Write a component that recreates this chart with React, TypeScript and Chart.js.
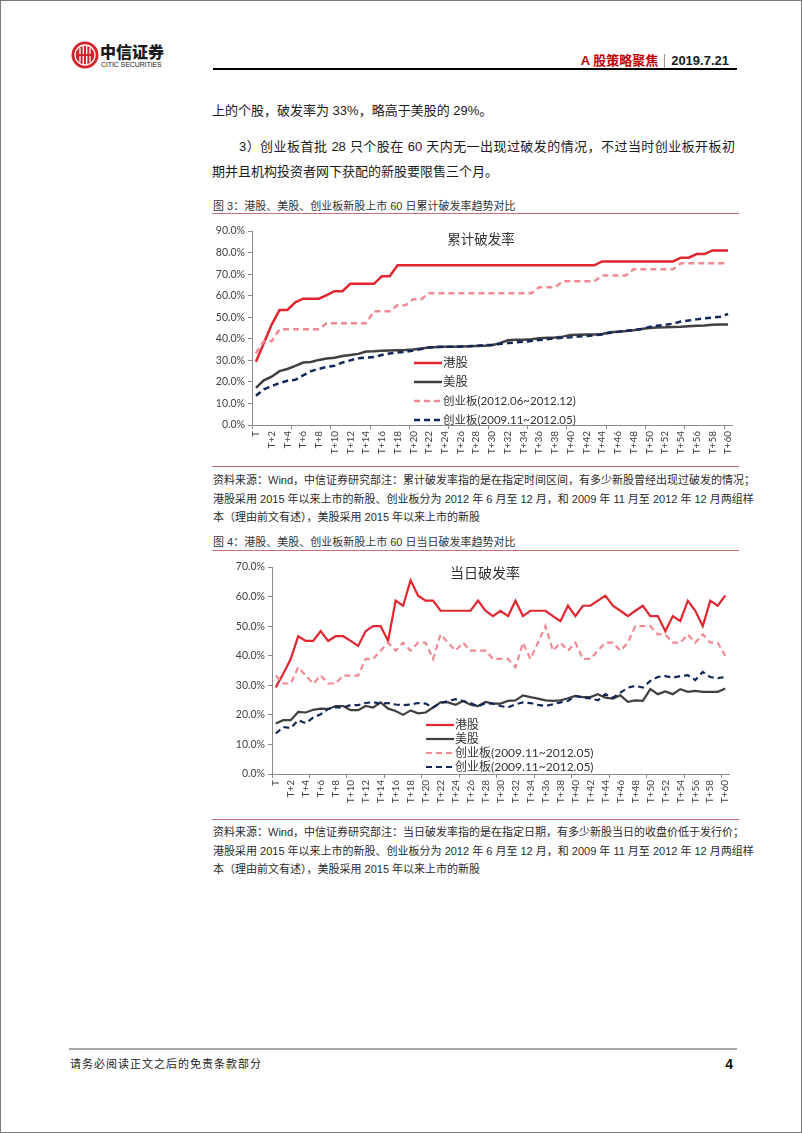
import React, { useEffect, useRef } from "react";
import { Chart, registerables } from "chart.js";

Chart.register(...registerables);

// ---------- data ----------
const categories = [
  "T", "T+1", "T+2", "T+3", "T+4", "T+5", "T+6", "T+7", "T+8", "T+9", "T+10",
  "T+11", "T+12", "T+13", "T+14", "T+15", "T+16", "T+17", "T+18", "T+19", "T+20",
  "T+21", "T+22", "T+23", "T+24", "T+25", "T+26", "T+27", "T+28", "T+29", "T+30",
  "T+31", "T+32", "T+33", "T+34", "T+35", "T+36", "T+37", "T+38", "T+39", "T+40",
  "T+41", "T+42", "T+43", "T+44", "T+45", "T+46", "T+47", "T+48", "T+49", "T+50",
  "T+51", "T+52", "T+53", "T+54", "T+55", "T+56", "T+57", "T+58", "T+59", "T+60",
];

// Figure 3: cumulative break rate (%)
const hkCum = [
  29.3, 37.9, 46.6, 53.4, 53.4, 56.9, 58.6, 58.6, 58.6, 60.3,
  62.1, 62.1, 65.5, 65.5, 65.5, 65.5, 69.0, 69.0, 74.1, 74.1,
  74.1, 74.1, 74.1, 74.1, 74.1, 74.1, 74.1, 74.1, 74.1, 74.1,
  74.1, 74.1, 74.1, 74.1, 74.1, 74.1, 74.1, 74.1, 74.1, 74.1,
  74.1, 74.1, 74.1, 74.1, 75.9, 75.9, 75.9, 75.9, 75.9, 75.9,
  75.9, 75.9, 75.9, 75.9, 77.6, 77.6, 79.3, 79.3, 81.0, 81.0,
  81.0,
];
const usCum = [
  17.2, 20.7, 22.4, 25.0, 26.0, 27.4, 29.0, 29.2, 30.2, 30.8,
  31.2, 32.0, 32.5, 33.0, 34.1, 34.2, 34.5, 34.6, 34.7, 34.8,
  35.0, 35.5, 36.0, 36.2, 36.3, 36.3, 36.4, 36.5, 36.7, 36.8,
  37.0, 38.0, 39.3, 39.5, 39.6, 39.8, 40.2, 40.5, 40.6, 41.0,
  41.8, 41.9, 42.0, 42.0, 42.2, 43.0, 43.3, 43.6, 44.0, 44.5,
  45.0, 45.2, 45.3, 45.5, 45.6, 45.8, 46.0, 46.2, 46.5, 46.6,
  46.6,
];
const cybLateCum = [
  33.3, 38.9, 38.9, 44.4, 44.4, 44.4, 44.4, 44.4, 44.4, 47.2,
  47.2, 47.2, 47.2, 47.2, 47.2, 52.8, 52.8, 52.8, 55.6, 55.6,
  58.3, 58.3, 61.1, 61.1, 61.1, 61.1, 61.1, 61.1, 61.1, 61.1,
  61.1, 61.1, 61.1, 61.1, 61.1, 61.1, 63.9, 63.9, 63.9, 66.7,
  66.7, 66.7, 66.7, 66.7, 69.4, 69.4, 69.4, 69.4, 72.2, 72.2,
  72.2, 72.2, 72.2, 72.2, 75.0, 75.0, 75.0, 75.0, 75.0, 75.0,
  75.0,
];
const cybEarlyCum = [
  13.6, 16.5, 18.0, 19.5, 20.5, 21.0, 23.0, 25.0, 26.0, 27.0,
  27.5, 29.0, 30.0, 31.0, 31.2, 31.5, 32.5, 33.2, 33.6, 34.0,
  34.5, 35.2, 36.0, 36.2, 36.3, 36.3, 36.4, 36.5, 36.7, 37.0,
  37.2, 37.6, 38.0, 38.3, 38.6, 39.0, 39.4, 39.8, 40.2, 40.5,
  40.7, 41.0, 41.3, 41.6, 42.0, 42.8, 43.2, 43.7, 44.0, 44.5,
  45.5, 46.0, 46.5, 47.0, 48.0, 48.5, 49.0, 49.5, 49.8, 50.2,
  51.5,
];

// Figure 4: same-day break rate (%)
const hkDay = [
  29.3, 33.9, 38.9, 46.6, 45.0, 45.0, 48.3, 45.0, 46.6, 46.6,
  45.0, 43.3, 48.3, 50.0, 50.0, 45.0, 58.6, 56.9, 65.5, 60.3,
  58.6, 58.6, 55.2, 55.2, 55.2, 55.2, 55.2, 58.6, 55.2, 53.4,
  55.2, 53.4, 58.6, 53.4, 55.2, 55.2, 55.2, 53.4, 51.7, 56.9,
  53.4, 56.9, 56.9, 58.6, 60.3, 56.9, 55.2, 53.4, 55.2, 56.9,
  53.4, 53.4, 48.3, 53.4, 51.7, 58.6, 55.2, 50.0, 58.6, 56.9,
  60.3,
];
const usDay = [
  17.1, 18.2, 18.2, 21.0, 20.8, 21.7, 22.1, 22.0, 23.0, 23.0,
  21.6, 21.6, 23.0, 22.5, 24.2, 22.1, 21.3, 20.0, 21.5, 20.5,
  20.8, 22.5, 24.2, 24.2, 23.4, 24.7, 23.4, 23.0, 24.4, 23.8,
  23.8, 24.7, 24.9, 26.6, 26.0, 25.5, 24.9, 24.7, 24.9, 25.6,
  26.4, 26.0, 26.0, 27.0, 25.8, 25.5, 26.6, 24.4, 24.9, 24.7,
  28.7, 27.0, 27.9, 27.0, 28.7, 27.8, 28.1, 27.8, 27.8, 27.8,
  28.9,
];
const cybPinkDay = [
  33.3, 30.6, 30.6, 36.1, 33.3, 30.6, 33.3, 30.6, 30.6, 33.3,
  33.3, 33.3, 38.9, 38.9, 41.7, 44.4, 41.7, 44.4, 41.7, 44.4,
  44.4, 38.9, 47.2, 44.4, 41.7, 44.4, 41.7, 41.7, 41.7, 38.9,
  38.9, 38.9, 36.1, 44.4, 38.9, 44.4, 50.0, 41.7, 44.4, 41.7,
  44.4, 38.9, 38.9, 41.7, 44.4, 44.4, 41.7, 44.4, 50.0, 50.0,
  50.0, 47.2, 47.2, 44.4, 44.4, 47.2, 44.4, 47.2, 44.4, 44.4,
  40.0,
];
const cybNavyDay = [
  13.7, 15.9, 15.5, 18.2, 17.2, 19.1, 20.2, 22.0, 22.5, 22.5,
  23.3, 23.3, 24.0, 24.3, 23.8, 24.0, 23.5, 23.3, 23.5, 24.0,
  23.8, 22.5, 24.0, 24.7, 25.3, 24.7, 24.0, 22.8, 24.0, 23.8,
  23.0, 22.5, 23.6, 24.2, 24.0, 23.4, 23.0, 23.6, 24.2, 24.7,
  26.4, 25.8, 25.6, 24.9, 27.0, 25.8, 27.5, 29.2, 29.8, 29.2,
  31.5, 32.8, 33.1, 32.6, 33.1, 33.4, 31.8, 34.5, 32.8, 32.4,
  32.8,
];

const legendCum = ["港股", "美股", "创业板(2012.06~2012.12)", "创业板(2009.11~2012.05)"];
const legendDay = ["港股", "美股", "创业板(2009.11~2012.05)", "创业板(2009.11~2012.05)"];

const notesCum = [
  "资料来源：Wind，中信证券研究部注：累计破发率指的是在指定时间区间，有多少新股曾经出现过破发的情况；",
  "港股采用 2015 年以来上市的新股、创业板分为 2012 年 6 月至 12 月，和 2009 年 11 月至 2012 年 12 月两组样",
  "本（理由前文有述），美股采用 2015 年以来上市的新股",
];
const notesDay = [
  "资料来源：Wind，中信证券研究部注：当日破发率指的是在指定日期，有多少新股当日的收盘价低于发行价；",
  "港股采用 2015 年以来上市的新股、创业板分为 2012 年 6 月至 12 月，和 2009 年 11 月至 2012 年 12 月两组样",
  "本（理由前文有述），美股采用 2015 年以来上市的新股",
];

// ---------- styles ----------
const RED = "#E2262F";
const GRAY = "#404040";
const PINK = "#EF8A92";
const NAVY = "#11295A";
const AXIS = "#8A8A8A";
const CHART_FONT = 'Lato, "Noto Sans CJK SC", sans-serif';
const PAGE_FONT = '"Liberation Sans", Arial, "Noto Sans CJK SC", sans-serif';
const CJK_FONT = '"Noto Sans CJK SC", sans-serif';

type Series = { data: number[]; color: string; dash: number[]; width: number };
type Box = { left: number; top: number; width: number; height: number };
type Area = { left: number; top: number; right: number; bottom: number };

function LineChart(props: { box: Box; area: Area; yMax: number; series: Series[] }) {
  const { box, area, yMax, series } = props;
  const ref = useRef<HTMLCanvasElement>(null);
  useEffect(() => {
    const yWidth = area.left - box.left;
    const xHeight = box.top + box.height - area.bottom;
    const chart = new Chart(ref.current as HTMLCanvasElement, {
      type: "line",
      data: {
        labels: categories,
        datasets: series.map((s, i) => ({
          data: s.data,
          borderColor: s.color,
          backgroundColor: s.color,
          borderWidth: s.width,
          borderDash: s.dash,
          borderCapStyle: "butt",
          pointRadius: 0,
          tension: 0,
          fill: false,
          order: series.length - i,
        })),
      },
      options: {
        responsive: false,
        animation: false,
        devicePixelRatio: 1,
        layout: {
          padding: { top: area.top - box.top, right: box.left + box.width - area.right, left: 0, bottom: 0 },
        },
        plugins: { legend: { display: false }, tooltip: { enabled: false }, title: { display: false } },
        scales: {
          x: {
            type: "category",
            offset: true,
            grid: {
              offset: true,
              drawOnChartArea: false,
              drawTicks: true,
              tickLength: 4,
              color: (c: any) => (typeof c.index === "number" && c.index % 5 === 0 ? AXIS : "rgba(0,0,0,0)"),
            },
            border: { display: true, color: AXIS, width: 1 },
            ticks: {
              autoSkip: false,
              maxRotation: 90,
              minRotation: 90,
              padding: 2,
              color: "#404040",
              font: { family: CHART_FONT, size: 10 },
              callback: (_v: any, i: number) => (i % 2 === 0 ? categories[i] : ""),
            },
            afterFit: (s: any) => {
              s.height = xHeight;
            },
          },
          y: {
            min: 0,
            max: yMax,
            grid: { drawOnChartArea: false, drawTicks: true, tickLength: 4, color: AXIS },
            border: { display: true, color: AXIS, width: 1 },
            ticks: {
              stepSize: 10,
              padding: 3,
              color: "#404040",
              font: { family: CHART_FONT, size: 10.5 },
              callback: (v: any) => Number(v).toFixed(1) + "%",
            },
            afterFit: (s: any) => {
              s.width = yWidth;
            },
          },
        },
      },
    } as any);
    return () => chart.destroy();
  }, []);
  return (
    <canvas
      ref={ref}
      width={box.width}
      height={box.height}
      style={{ position: "absolute", left: box.left, top: box.top, width: box.width, height: box.height }}
    />
  );
}

function Legend(props: {
  x: number;
  textX: number;
  rows: number[];
  labels: string[];
  series: Series[];
  sizes: number[];
}) {
  const { x, textX, rows, labels, series, sizes } = props;
  return (
    <>
      {labels.map((lab, i) => (
        <div key={i}>
          <svg
            style={{ position: "absolute", left: x, top: rows[i] - 3 }}
            width={textX - x - 1}
            height={6}
          >
            <line
              x1={0}
              y1={3}
              x2={textX - x - 1}
              y2={3}
              stroke={series[i].color}
              strokeWidth={series[i].width}
              strokeDasharray={series[i].dash.length ? series[i].dash.join(" ") : undefined}
            />
          </svg>
          <div
            style={{
              position: "absolute",
              left: textX,
              top: rows[i] - 10,
              height: 20,
              lineHeight: "20px",
              fontSize: sizes[i],
              fontFamily: CHART_FONT,
              color: "#333",
              whiteSpace: "nowrap",
            }}
          >
            {lab}
          </div>
        </div>
      ))}
    </>
  );
}

function Abs(props: { x: number; y: number; w?: number; style?: any; children?: any }) {
  return (
    <div style={{ position: "absolute", left: props.x, top: props.y, width: props.w, whiteSpace: "nowrap", ...props.style }}>
      {props.children}
    </div>
  );
}

function NoteBlock(props: { lines: string[]; top: number }) {
  return (
    <>
      {props.lines.map((t, i) => (
        <div
          key={i}
          style={{
            position: "absolute",
            left: 212,
            top: props.top + i * 18.5 - 9,
            width: 523,
            height: 18,
            lineHeight: "18px",
            fontSize: 11,
            fontFamily: PAGE_FONT,
            color: "#2a2a2a",
            whiteSpace: "nowrap",
            textAlign: i < 2 ? "justify" : "left",
            textAlignLast: i < 2 ? "justify" : "left",
          } as any}
        >
          {t}
        </div>
      ))}
    </>
  );
}

function FigTitle(props: { text: string; y: number; lineY: number }) {
  return (
    <>
      <Abs x={212} y={props.y - 9} style={{ fontSize: 11, lineHeight: "18px", fontFamily: PAGE_FONT, color: "#333" }}>
        {props.text}
      </Abs>
      <div style={{ position: "absolute", left: 211, top: props.lineY, width: 527, height: 1, background: "#C7707A" }} />
    </>
  );
}

export default function App() {
  const cumSeries: Series[] = [
    { data: hkCum, color: RED, dash: [], width: 2.5 },
    { data: usCum, color: GRAY, dash: [], width: 2.5 },
    { data: cybLateCum, color: PINK, dash: [6, 4], width: 2.5 },
    { data: cybEarlyCum, color: NAVY, dash: [6, 4], width: 2.5 },
  ];
  const daySeries: Series[] = [
    { data: hkDay, color: RED, dash: [], width: 2.2 },
    { data: usDay, color: GRAY, dash: [], width: 2.2 },
    { data: cybPinkDay, color: PINK, dash: [6, 4], width: 2.2 },
    { data: cybNavyDay, color: NAVY, dash: [6, 4], width: 2.2 },
  ];

  return (
    <div
      style={{
        position: "absolute",
        left: 0,
        top: 0,
        width: 802,
        height: 1133,
        background: "#fff",
        boxSizing: "border-box",
        border: "1px solid #7a7a7a",
        overflow: "hidden",
        fontFamily: PAGE_FONT,
      }}
    >
      {/* header logo */}
      <svg style={{ position: "absolute", left: 70, top: 40 }} width={28} height={28} viewBox="0 0 28 28">
        <circle cx={14} cy={14} r={13.5} fill="#D2232A" />
        <circle cx={14} cy={14} r={10} fill="none" stroke="#fff" strokeWidth={1.3} />
        <path d="M9 7 V21 M12.3 5 V23 M15.7 5 V23 M19 7 V21" stroke="#fff" strokeWidth={1.3} />
        <path d="M5.5 14 H22.5" stroke="#D2232A" strokeWidth={2} />
      </svg>
      <Abs x={99} y={40} style={{ fontSize: 16, lineHeight: "20px", fontWeight: 900, fontFamily: CJK_FONT, color: "#1a1a1a" }}>
        中信证券
      </Abs>
      <Abs x={100} y={59} style={{ fontSize: 7, lineHeight: "9px", fontFamily: PAGE_FONT, color: "#222", letterSpacing: -0.1 }}>
        CITIC SECURITIES
      </Abs>
      <div
        style={{
          position: "absolute",
          right: 802 - 730,
          top: 51,
          height: 18,
          lineHeight: "18px",
          fontSize: 13,
          fontWeight: 700,
          whiteSpace: "nowrap",
          display: "flex",
          alignItems: "center",
        }}
      >
        <span style={{ color: "#C00000" }}>A 股策略聚焦</span>
        <span style={{ display: "inline-block", width: 1, height: 14, background: "#999", margin: "0 6px" }} />
        <span style={{ color: "#1a1a1a" }}>2019.7.21</span>
      </div>
      <div style={{ position: "absolute", left: 212, top: 67, width: 524, height: 2, background: "#000" }} />

      {/* body text */}
      <Abs x={211} y={100} style={{ fontSize: 13, lineHeight: "20px", color: "#1a1a1a" }}>
        上的个股，破发率为 33%，略高于美股的 29%。
      </Abs>
      <div
        style={{
          position: "absolute",
          left: 238,
          top: 136,
          width: 496,
          fontSize: 13,
          lineHeight: "20px",
          color: "#1a1a1a",
          whiteSpace: "nowrap",
          textAlign: "justify",
          textAlignLast: "justify",
        } as any}
      >
        3）创业板首批 28 只个股在 60 天内无一出现过破发的情况，不过当时创业板开板初
      </div>
      <Abs x={211} y={161} style={{ fontSize: 13, lineHeight: "20px", color: "#1a1a1a" }}>
        期并且机构投资者网下获配的新股要限售三个月。
      </Abs>

      {/* figure 3 */}
      <FigTitle text="图 3：港股、美股、创业板新股上市 60 日累计破发率趋势对比" y={205} lineY={212} />
      <LineChart
        box={{ left: 200, top: 220, width: 545, height: 242 }}
        area={{ left: 251, top: 230, right: 731, bottom: 424 }}
        yMax={90}
        series={cumSeries}
      />
      <div
        style={{
          position: "absolute",
          left: 380,
          width: 200,
          top: 227,
          textAlign: "center",
          fontSize: 13.5,
          lineHeight: "20px",
          fontFamily: CJK_FONT,
          color: "#333",
        }}
      >
        累计破发率
      </div>
      <Legend
        x={413}
        textX={442}
        rows={[362, 381, 400, 419]}
        labels={legendCum}
        series={cumSeries}
        sizes={[12.5, 12.5, 11.5, 11.5]}
      />
      <div style={{ position: "absolute", left: 211, top: 465, width: 527, height: 1, background: "#C7707A" }} />
      <NoteBlock lines={notesCum} top={479} />

      {/* figure 4 */}
      <FigTitle text="图 4：港股、美股、创业板新股上市 60 日当日破发率趋势对比" y={541} lineY={549} />
      <LineChart
        box={{ left: 200, top: 556, width: 545, height: 256 }}
        area={{ left: 271, top: 566, right: 728, bottom: 773 }}
        yMax={70}
        series={daySeries}
      />
      <div
        style={{
          position: "absolute",
          left: 384,
          width: 200,
          top: 561,
          textAlign: "center",
          fontSize: 14,
          lineHeight: "20px",
          fontFamily: CJK_FONT,
          color: "#333",
        }}
      >
        当日破发率
      </div>
      <Legend
        x={425}
        textX={454}
        rows={[724, 738, 752, 766]}
        labels={legendDay}
        series={daySeries}
        sizes={[12, 12, 12, 12]}
      />
      <div style={{ position: "absolute", left: 211, top: 818, width: 527, height: 1, background: "#C7707A" }} />
      <NoteBlock lines={notesDay} top={831} />

      {/* footer */}
      <div style={{ position: "absolute", left: 68, top: 1047, width: 668, height: 2, background: "#A6A6A6" }} />
      <Abs x={69} y={1054} style={{ fontSize: 11, lineHeight: "18px", color: "#222", letterSpacing: 1 }}>
        请务必阅读正文之后的免责条款部分
      </Abs>
      <div
        style={{
          position: "absolute",
          right: 802 - 734,
          top: 1054,
          fontSize: 14,
          lineHeight: "18px",
          fontWeight: 700,
          color: "#111",
        }}
      >
        4
      </div>
    </div>
  );
}
